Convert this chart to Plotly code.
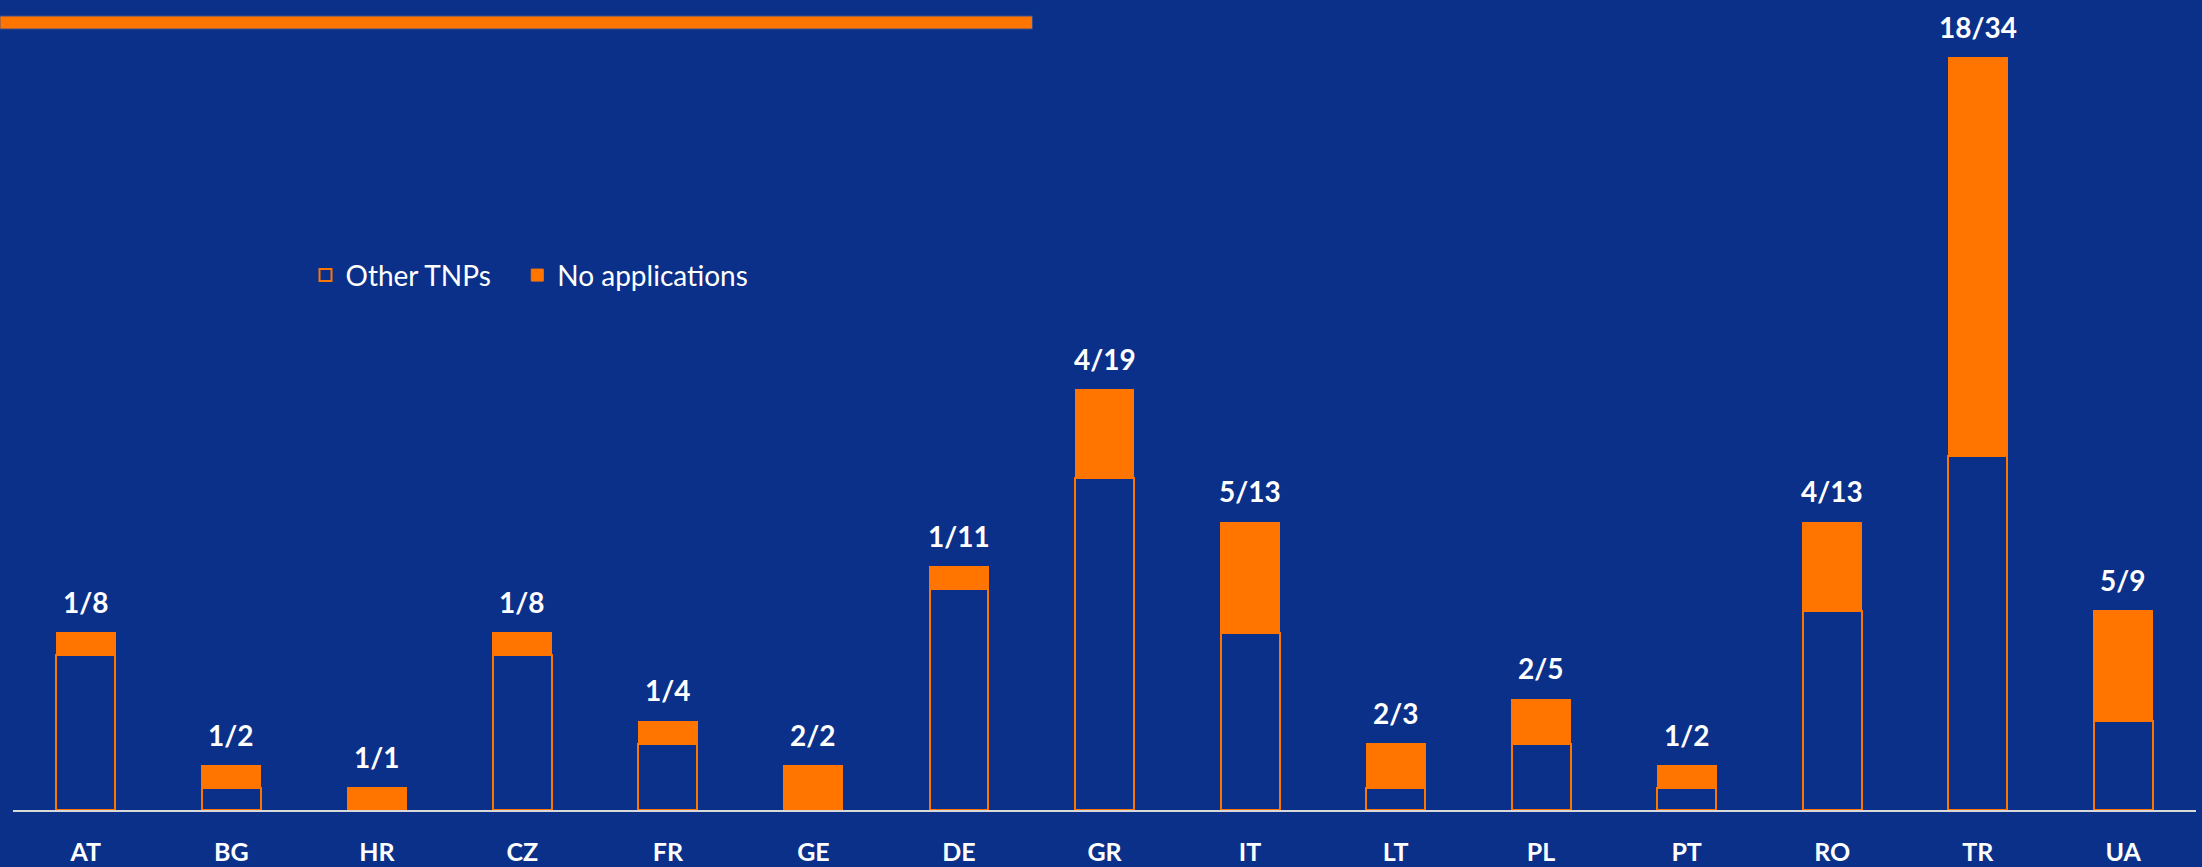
import plotly.graph_objects as go

BG = "#0B308A"
ORANGE = "#FF7500"
AXIS = "#D9D9D9"

countries = ["AT", "BG", "HR", "CZ", "FR", "GE", "DE", "GR", "IT", "LT", "PL", "PT", "RO", "TR", "UA"]
no_applications = [1, 1, 1, 1, 1, 2, 1, 4, 5, 2, 2, 1, 4, 18, 5]
totals = [8, 2, 1, 8, 4, 2, 11, 19, 13, 3, 5, 2, 13, 34, 9]
other_tnps = [t - n for t, n in zip(totals, no_applications)]
labels = [f"{n}/{t}" for n, t in zip(no_applications, totals)]

fig = go.Figure()
fig.add_trace(go.Bar(
    x=countries, y=other_tnps, name="Other TNPs\u00a0\u00a0\u00a0",
    marker=dict(color=BG, line=dict(color=ORANGE, width=2)),
))
fig.add_trace(go.Bar(
    x=countries, y=no_applications, name="No applications",
    marker=dict(color=ORANGE, line=dict(color=ORANGE, width=1)),
))

for c, t, lab in zip(countries, totals, labels):
    fig.add_annotation(
        x=c, y=t, text=f"<b>{lab}</b>", showarrow=False,
        yanchor="bottom", yshift=12,
        font=dict(family="Lato, sans-serif", size=28, color="white"),
    )

# orange rule under the (cropped) title
fig.add_shape(type="rect", xref="paper", yref="paper",
              x0=-0.006, x1=0.467, y0=(810 - 29) / 810, y1=(810 - 16) / 810,
              fillcolor=ORANGE, line=dict(color="#3A4F8C", width=1), layer="above")

fig.update_layout(
    width=2202, height=867,
    barmode="stack", bargap=0.595,
    paper_bgcolor=BG, plot_bgcolor=BG,
    margin=dict(l=13, r=6, t=0, b=57),
    font=dict(family="Lato, sans-serif", color="white"),
    showlegend=True,
    legend=dict(
        orientation="h", x=0.134, y=0.66, xanchor="left", yanchor="middle",
        font=dict(size=28, color="white"), bgcolor="rgba(0,0,0,0)",
        traceorder="normal",
    ),
)
fig.update_xaxes(
    showline=True, linecolor=AXIS, linewidth=2, showgrid=False,
    ticks="", ticklabelstandoff=19, automargin=False,
    tickfont=dict(size=25, color="white", family="Lato, sans-serif", weight="bold"),
)
fig.update_yaxes(range=[0, 36.6], visible=False, showgrid=False, automargin=False)

fig.write_html(
    "out.html",
    config={"displayModeBar": False},
    post_script="document.body.style.margin='0';document.body.style.overflow='hidden';",
)
